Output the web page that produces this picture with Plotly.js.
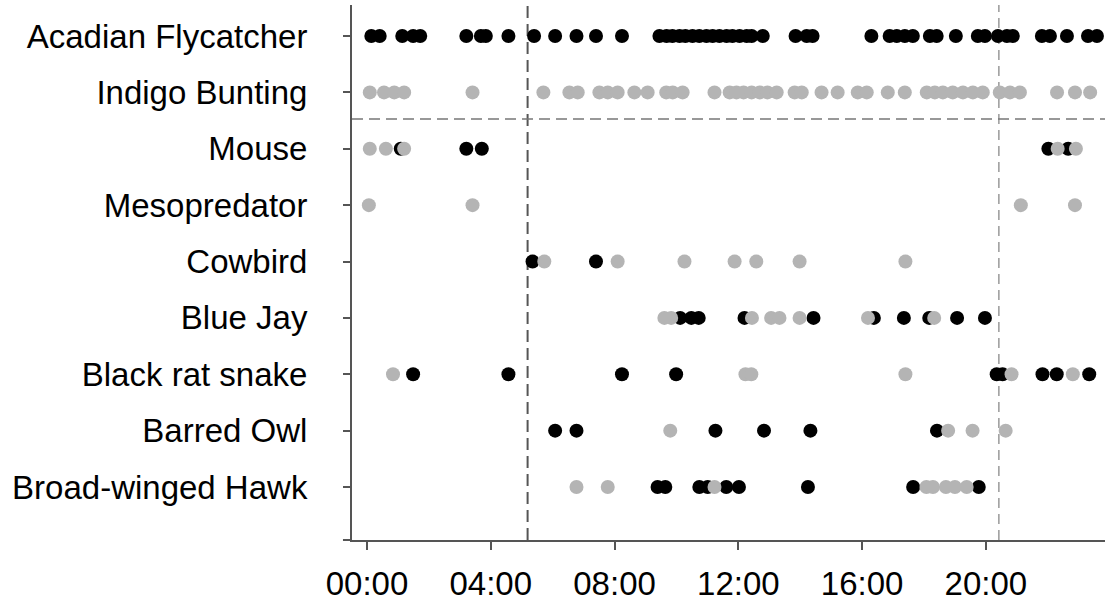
<!DOCTYPE html>
<html>
<head>
<meta charset="utf-8">
<script src="https://cdn.plot.ly/plotly-3.0.1.min.js"></script>
<style>html,body{margin:0;padding:0;background:#fff;}#chart{width:1105px;height:603px;}</style>
</head>
<body>
<div id="chart"></div>
<script>
// Categories (top to bottom)
const categories = ["Acadian Flycatcher","Indigo Bunting","Mouse","Mesopredator","Cowbird","Blue Jay","Black rat snake","Barred Owl","Broad-winged Hawk"];

// Detection times (hours of day), black = one group, gray = other group
const acadianBlack = [0.14,0.41,1.14,1.49,1.72,3.21,3.68,3.84,4.57,5.40,6.08,6.77,7.40,8.24,9.45,9.68,9.87,10.10,10.29,10.52,10.74,10.97,11.17,11.39,11.62,11.81,12.04,12.27,12.43,12.79,13.85,14.21,14.40,16.30,16.89,17.12,17.38,17.64,18.19,18.41,19.03,19.74,19.97,20.39,20.68,20.87,21.81,22.07,22.62,23.30,23.59];
const indigoGray = [0.09,0.55,0.88,1.20,3.41,5.70,6.54,6.81,7.51,7.78,8.10,8.64,9.07,9.67,9.88,10.20,11.23,11.72,11.94,12.17,12.43,12.69,12.94,13.24,13.82,14.05,14.69,15.21,15.86,16.15,16.83,17.38,18.09,18.35,18.61,18.93,19.26,19.58,19.90,20.45,20.78,21.10,22.30,22.88,23.37];
const mouseBlack = [1.09,3.21,3.71,22.02,22.66];
const mouseGray = [0.09,0.61,1.20,22.32,22.91];
const mesoGray = [0.06,3.41,21.13,22.88];
const cowbirdBlack = [5.35,7.40];
const cowbirdGray = [5.73,8.10,10.26,11.88,12.58,13.98,17.40];
const jayBlack = [10.12,10.48,10.72,12.20,14.43,16.38,17.35,18.17,19.07,19.97];
const jayGray = [9.61,9.83,12.44,13.06,13.33,13.98,16.19,18.33];
const snakeBlack = [1.49,4.57,8.24,9.99,20.35,20.54,21.83,22.29,23.34];
const snakeGray = [0.84,12.23,12.42,17.40,20.83,22.81];
const owlBlack = [6.08,6.77,11.26,12.83,14.33,18.42];
const owlGray = [9.80,18.78,19.57,20.64];
const hawkBlack = [9.39,9.64,10.74,11.01,11.61,12.02,14.25,17.65,19.77];
const hawkGray = [6.77,7.78,11.23,18.08,18.29,18.71,19.00,19.38];

// Tick labels
const tickHours = [0,4,8,12,16,20];
const tickLabels = ["00:00","04:00","08:00","12:00","16:00","20:00"];

// Reference lines (hours) and separator
const sunrise = 5.19;
const sunset = 20.42;

const blackSets = [[categories[0],acadianBlack],[categories[2],mouseBlack],[categories[4],cowbirdBlack],[categories[5],jayBlack],[categories[6],snakeBlack],[categories[7],owlBlack],[categories[8],hawkBlack]];
const graySets = [[categories[1],indigoGray],[categories[2],mouseGray],[categories[3],mesoGray],[categories[4],cowbirdGray],[categories[5],jayGray],[categories[6],snakeGray],[categories[7],owlGray],[categories[8],hawkGray]];

function build(sets){
  const x=[],y=[];
  sets.forEach(([c,arr])=>arr.forEach(v=>{x.push(v);y.push(c);}));
  return {x,y};
}
const b = build(blackSets), g = build(graySets);

const traces = [
  {type:'scatter',mode:'markers',x:b.x,y:b.y,marker:{color:'#000000',size:14,line:{width:0}},hoverinfo:'x+y'},
  {type:'scatter',mode:'markers',x:g.x,y:g.y,marker:{color:'#b4b4b4',size:14,line:{width:0}},hoverinfo:'x+y'}
];

const layout = {
  width:1105,height:603,
  margin:{l:352,r:0,t:5,b:63,pad:0},
  paper_bgcolor:'#ffffff',plot_bgcolor:'#ffffff',
  showlegend:false,
  font:{family:'"Liberation Sans", Arial, sans-serif',size:33,color:'#000'},
  xaxis:{
    range:[-0.485,23.85],
    tickvals:tickHours,ticktext:tickLabels,
    showgrid:false,zeroline:false,
    showline:true,linecolor:'#555',linewidth:2,
    ticks:'outside',ticklen:8,tickwidth:2,tickcolor:'#555',
    ticklabelstandoff:5,
    tickfont:{size:33,color:'#000'}
  },
  yaxis:{
    type:'category',categoryorder:'array',categoryarray:categories,
    range:[8.94,-0.55],
    showgrid:false,zeroline:false,
    showline:true,linecolor:'#555',linewidth:2,
    ticks:'outside',ticklen:7,tickwidth:2,tickcolor:'#555',
    ticklabelstandoff:29,
    tickfont:{size:33,color:'#000'}
  },
  shapes:[
    {type:'line',xref:'x',yref:'paper',x0:sunrise,x1:sunrise,y0:0,y1:1,line:{color:'#555',width:2,dash:'12px,6px'},layer:'below'},
    {type:'line',xref:'x',yref:'paper',x0:sunset,x1:sunset,y0:0,y1:1,line:{color:'#999',width:1.5,dash:'10px,6px'},layer:'below'},
    {type:'line',xref:'paper',yref:'y',x0:0,x1:1,y0:1.47,y1:1.47,line:{color:'#777',width:1.5,dash:'11px,6px'},layer:'below'},
    {type:'line',xref:'paper',yref:'paper',x0:-0.012,x1:0,y0:0,y1:0,line:{color:'#555',width:2}}
  ]
};

Plotly.newPlot('chart',traces,layout,{displayModeBar:false,staticPlot:true});
</script>
</body>
</html>
